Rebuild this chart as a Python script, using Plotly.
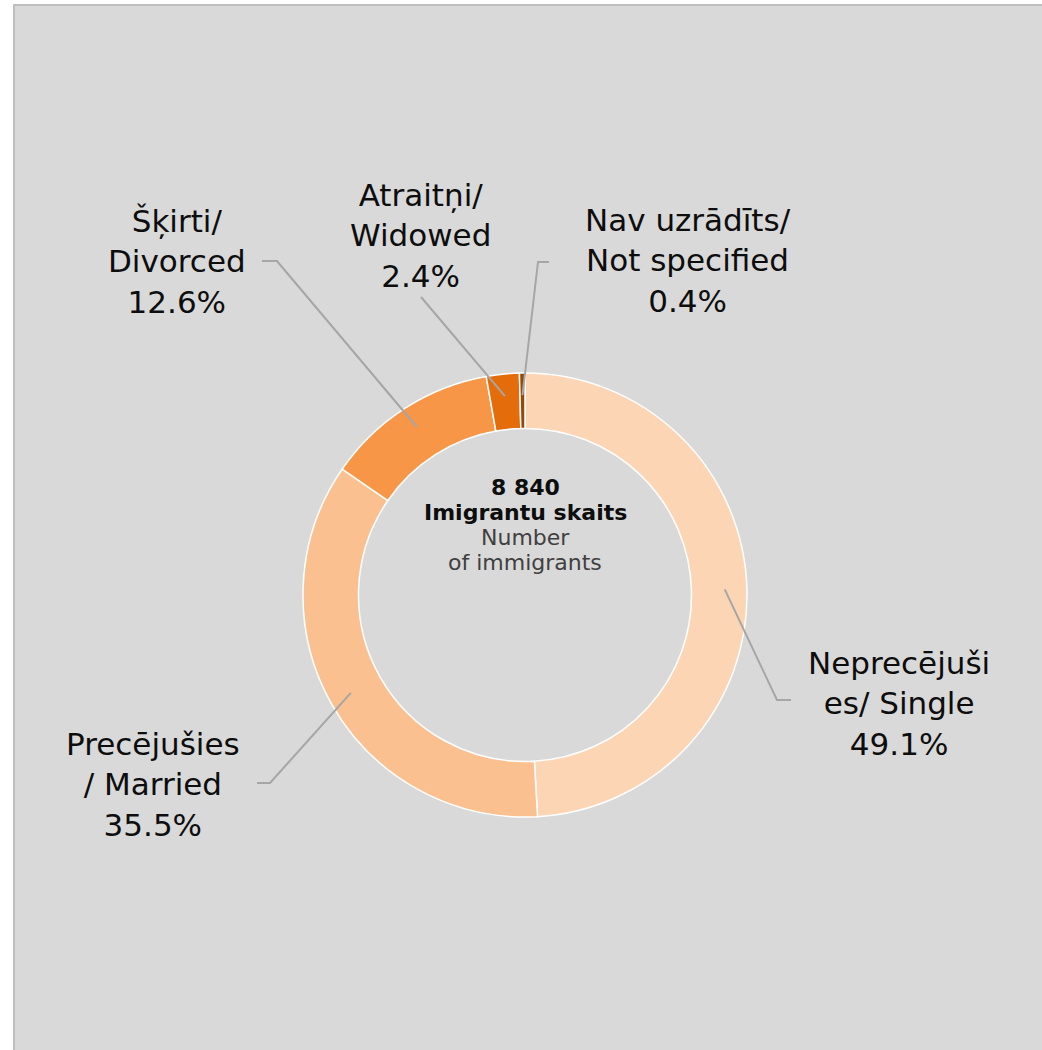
import math
import plotly.graph_objects as go

# ---- data ----
categories = [
    "Neprecējuši<br>es/ Single",
    "Precējušies<br>/ Married",
    "Šķirti/<br>Divorced",
    "Atraitņi/<br>Widowed",
    "Nav uzrādīts/<br>Not specified",
]
shares = [49.1, 35.5, 12.6, 2.4, 0.4]
colors = ["#FCD5B5", "#FAC090", "#F79646", "#E46C0A", "#984807"]
center_lines = ["8 840", "Imigrantu skaits", "Number", "of immigrants"]

# ---- layout (pixels) ----
W, H = 1042, 1050
CX, CY, R = 525, 595, 222
HOLE = 0.75
FONT = "Verdana, DejaVu Sans, sans-serif"

label_pos = [(899, 703), (153, 784), (177, 261), (420, 236), (688, 260)]
leader_bends = [
    [(777, 700), (791, 700)],
    [(270, 783), (257, 783)],
    [(277, 261), (262, 261)],
    [(421, 297)],
    [(538, 262), (549, 262)],
]


def px(x):
    return x / W


def py(y):
    return 1 - y / H


fig = go.Figure(
    go.Pie(
        values=shares,
        labels=categories,
        sort=False,
        direction="clockwise",
        rotation=0,
        hole=HOLE,
        marker=dict(colors=colors, line=dict(color="white", width=1.5)),
        textinfo="none",
        hoverinfo="label+percent",
        showlegend=False,
        domain=dict(x=[px(CX - R), px(CX + R)], y=[py(CY + R), py(CY - R)]),
    )
)

shapes = [
    dict(
        type="rect", xref="paper", yref="paper",
        x0=px(14), x1=1.02, y0=-0.02, y1=py(5),
        fillcolor="#D9D9D9", line=dict(color="#BFBFBF", width=2), layer="below",
    )
]
annotations = []

total = sum(shares)
cum = 0.0
for cat, val, (lx, ly), bends in zip(categories, shares, label_pos, leader_bends):
    mid = (cum + val / 2) / total * 2 * math.pi
    cum += val
    r = R * 0.9
    sx = CX + r * math.sin(mid)
    sy = CY - r * math.cos(mid)
    pts = [(sx, sy)] + bends
    path = "M " + " L ".join(f"{px(x):.5f},{py(y):.5f}" for x, y in pts)
    shapes.append(dict(type="path", xref="paper", yref="paper", path=path,
                       line=dict(color="#A6A6A6", width=2)))
    annotations.append(dict(
        x=px(lx), y=py(ly), xref="paper", yref="paper",
        text=f"{cat}<br>{val:.1f}%", showarrow=False,
        xanchor="center", yanchor="middle", align="center",
        font=dict(family=FONT, size=31, color="#0D0D0D"),
    ))

center_y = [487, 512, 537, 562]
for i, (t, y) in enumerate(zip(center_lines, center_y)):
    bold = i < 2
    annotations.append(dict(
        x=px(CX), y=py(y), xref="paper", yref="paper",
        text=f"<b>{t}</b>" if bold else t, showarrow=False,
        xanchor="center", yanchor="middle",
        font=dict(family=FONT, size=22, color="#0D0D0D" if bold else "#404040"),
    ))

fig.update_layout(
    width=W, height=H,
    margin=dict(l=0, r=0, t=0, b=0),
    paper_bgcolor="white",
    plot_bgcolor="white",
    shapes=shapes,
    annotations=annotations,
)

fig.write_html(
    "out.html",
    config={"displayModeBar": False},
    post_script="document.body.style.margin='0';document.body.style.overflow='hidden';",
)
